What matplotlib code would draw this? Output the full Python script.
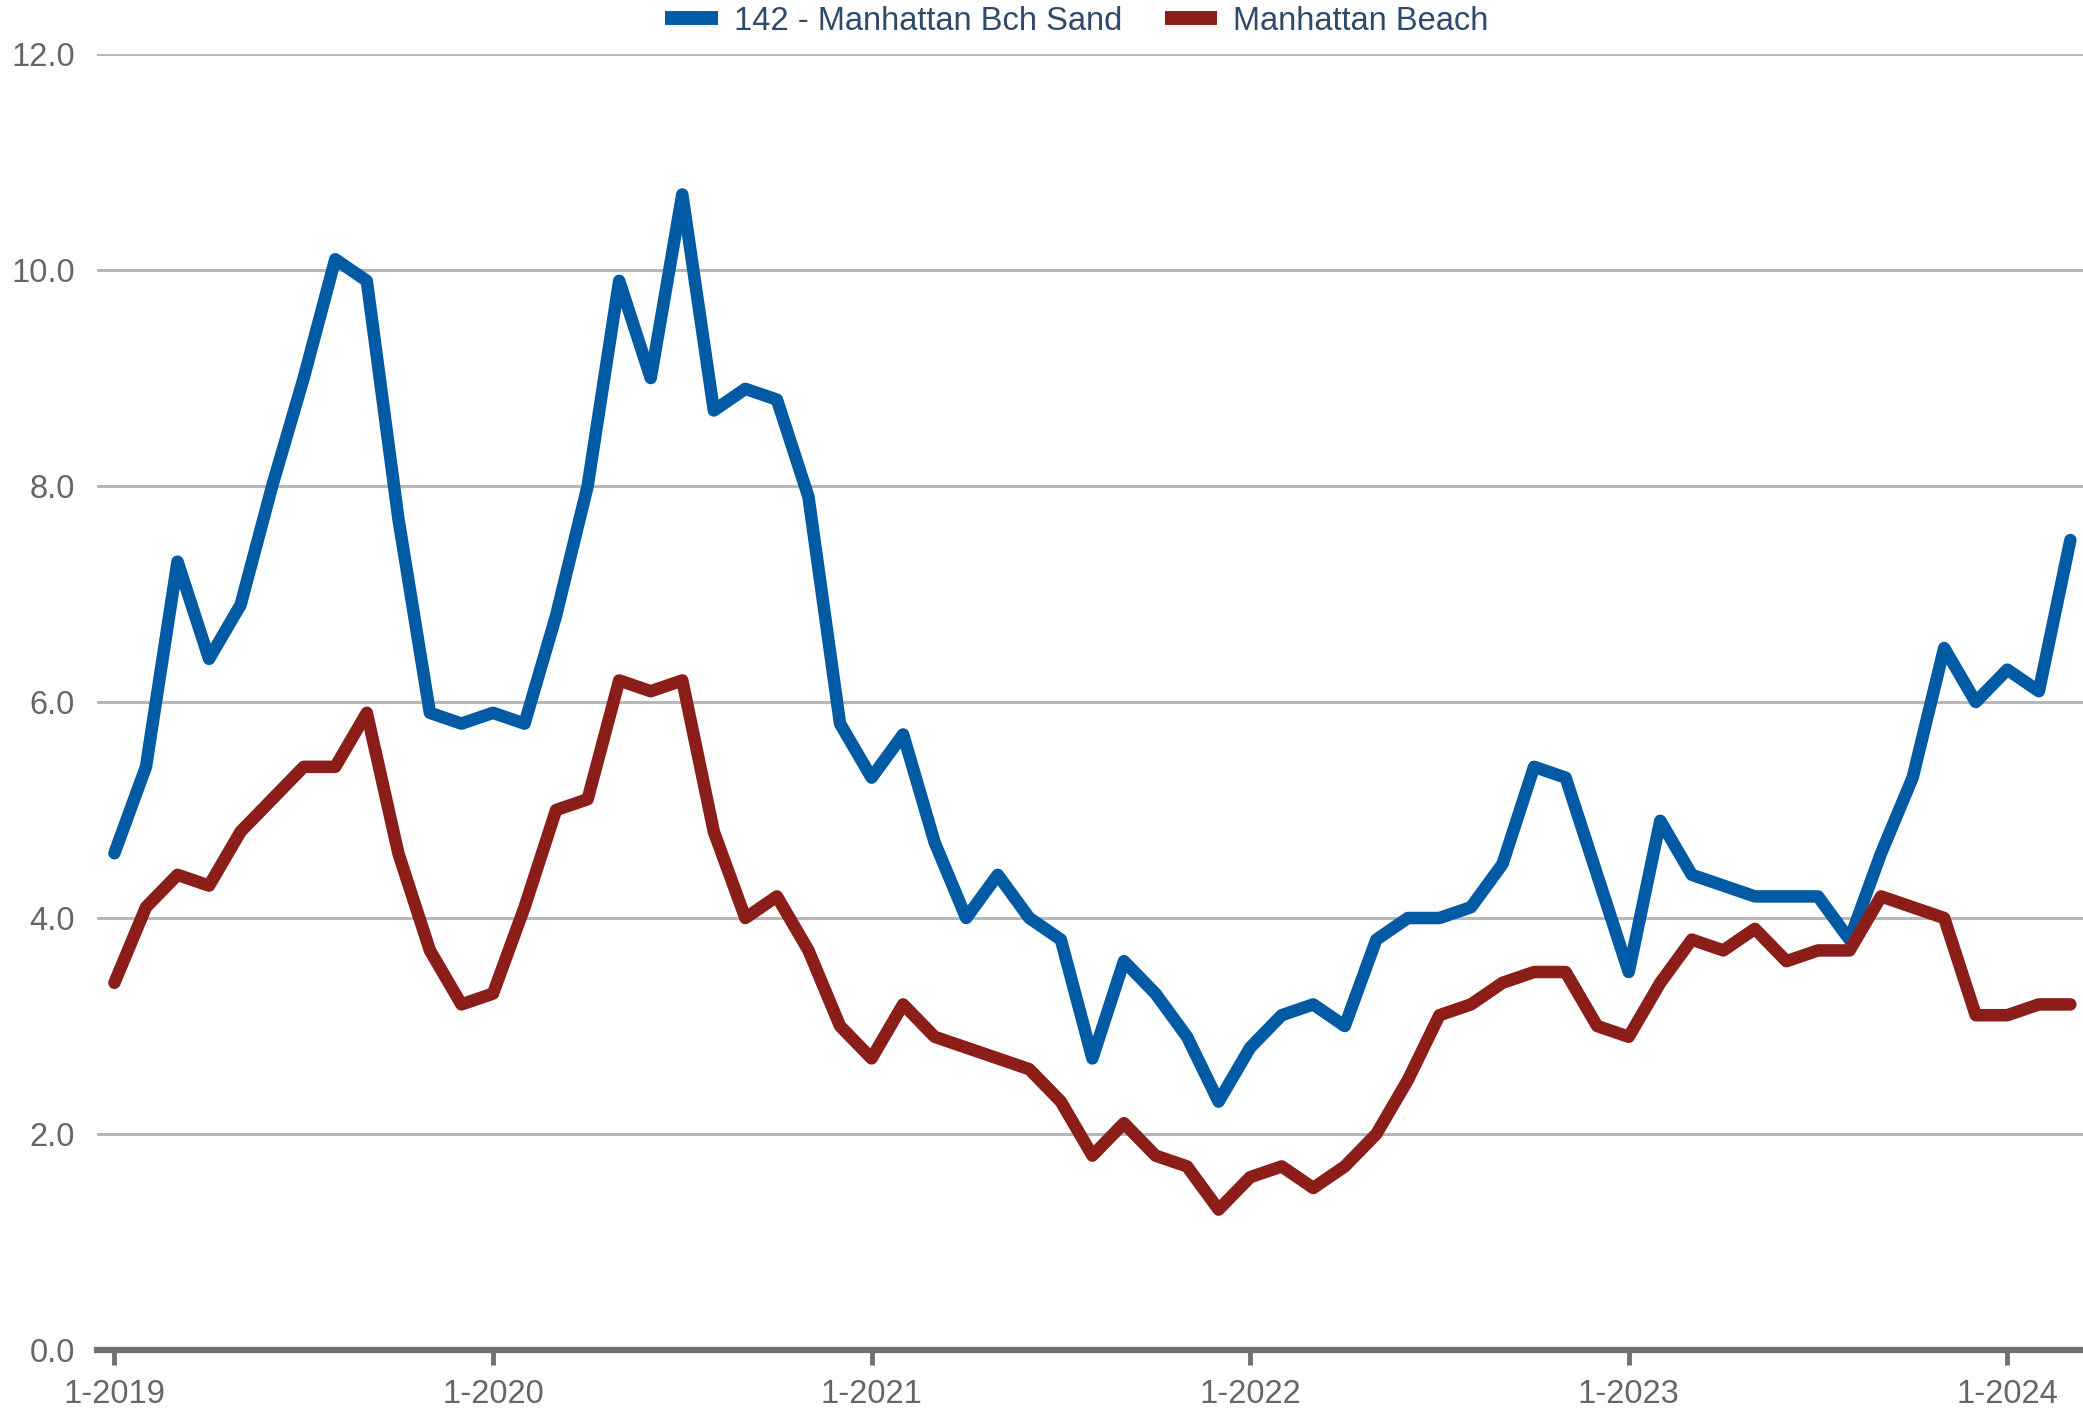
import matplotlib
matplotlib.use("Agg")
import matplotlib.pyplot as plt
from matplotlib import font_manager
import numpy as np

# monthly values, Jan 2019 .. Mar 2024
sand = [4.6, 5.4, 7.3, 6.4, 6.9, 8.0, 9.0, 10.1, 9.9, 7.7, 5.9, 5.8,
        5.9, 5.8, 6.8, 8.0, 9.9, 9.0, 10.7, 8.7, 8.9, 8.8, 7.9, 5.8,
        5.3, 5.7, 4.7, 4.0, 4.4, 4.0, 3.8, 2.7, 3.6, 3.3, 2.9, 2.3,
        2.8, 3.1, 3.2, 3.0, 3.8, 4.0, 4.0, 4.1, 4.5, 5.4, 5.3, 4.4,
        3.5, 4.9, 4.4, 4.3, 4.2, 4.2, 4.2, 3.8, 4.6, 5.3, 6.5, 6.0,
        6.3, 6.1, 7.5]
beach = [3.4, 4.1, 4.4, 4.3, 4.8, 5.1, 5.4, 5.4, 5.9, 4.6, 3.7, 3.2,
         3.3, 4.1, 5.0, 5.1, 6.2, 6.1, 6.2, 4.8, 4.0, 4.2, 3.7, 3.0,
         2.7, 3.2, 2.9, 2.8, 2.7, 2.6, 2.3, 1.8, 2.1, 1.8, 1.7, 1.3,
         1.6, 1.7, 1.5, 1.7, 2.0, 2.5, 3.1, 3.2, 3.4, 3.5, 3.5, 3.0,
         2.9, 3.4, 3.8, 3.7, 3.9, 3.6, 3.7, 3.7, 4.2, 4.1, 4.0, 3.1,
         3.1, 3.2, 3.2]
series_names = ["142 - Manhattan Bch Sand", "Manhattan Beach"]
x_tick_labels = ["1-2019", "1-2020", "1-2021", "1-2022", "1-2023", "1-2024"]
y_ticks = [0.0, 2.0, 4.0, 6.0, 8.0, 10.0, 12.0]

try:
    font_manager.findfont("Liberation Sans Narrow", fallback_to_default=False)
    fam = "Liberation Sans Narrow"
    fs = 27
except Exception:
    fam = "Liberation Sans"
    fs = 23.5
plt.rcParams["font.family"] = [fam, "DejaVu Sans"]

months = np.arange(len(sand))

fig = plt.figure(figsize=(20.83, 14.08), dpi=100)
ax = fig.add_axes([0.0466, 0.0412, 0.9534, 0.9204])

for y in y_ticks[1:]:
    ax.axhline(y, color="#b8b8b8", lw=2.2, zorder=1)

ax.plot(months, sand, color="#005ba4", lw=9, solid_joinstyle="round",
        solid_capstyle="round", label=series_names[0], zorder=3, clip_on=False)
ax.plot(months, beach, color="#8b1e18", lw=9, solid_joinstyle="round",
        solid_capstyle="round", label=series_names[1], zorder=3, clip_on=False)

ax.set_xlim(-0.55, 62.4)
ax.set_ylim(0, 12)
ax.set_xticks(np.arange(0, len(sand), 12))
ax.set_xticklabels(x_tick_labels)
ax.set_yticks(y_ticks)
ax.set_yticklabels([f"{v:.1f}" for v in y_ticks])

for s in ["top", "right", "left"]:
    ax.spines[s].set_visible(False)
ax.spines["bottom"].set_color("#707070")
ax.spines["bottom"].set_linewidth(4.5)
ax.spines["bottom"].set_zorder(4)
ax.tick_params(axis="x", colors="#707070", length=11, width=3.5, labelsize=fs,
               labelcolor="#666666", pad=10)
ax.tick_params(axis="y", length=0, labelsize=fs, labelcolor="#666666", pad=16)

leg = fig.legend(loc="center", bbox_to_anchor=(0.517, 0.985), ncol=2,
                 frameon=False, fontsize=fs, handlelength=1.6,
                 handletextpad=0.5, columnspacing=1.3)
for t in leg.get_texts():
    t.set_color("#2e4a6b")
for h in leg.get_lines():
    h.set_linewidth(10)
    h.set_solid_capstyle("butt")

fig.savefig("out.png", dpi=100)
